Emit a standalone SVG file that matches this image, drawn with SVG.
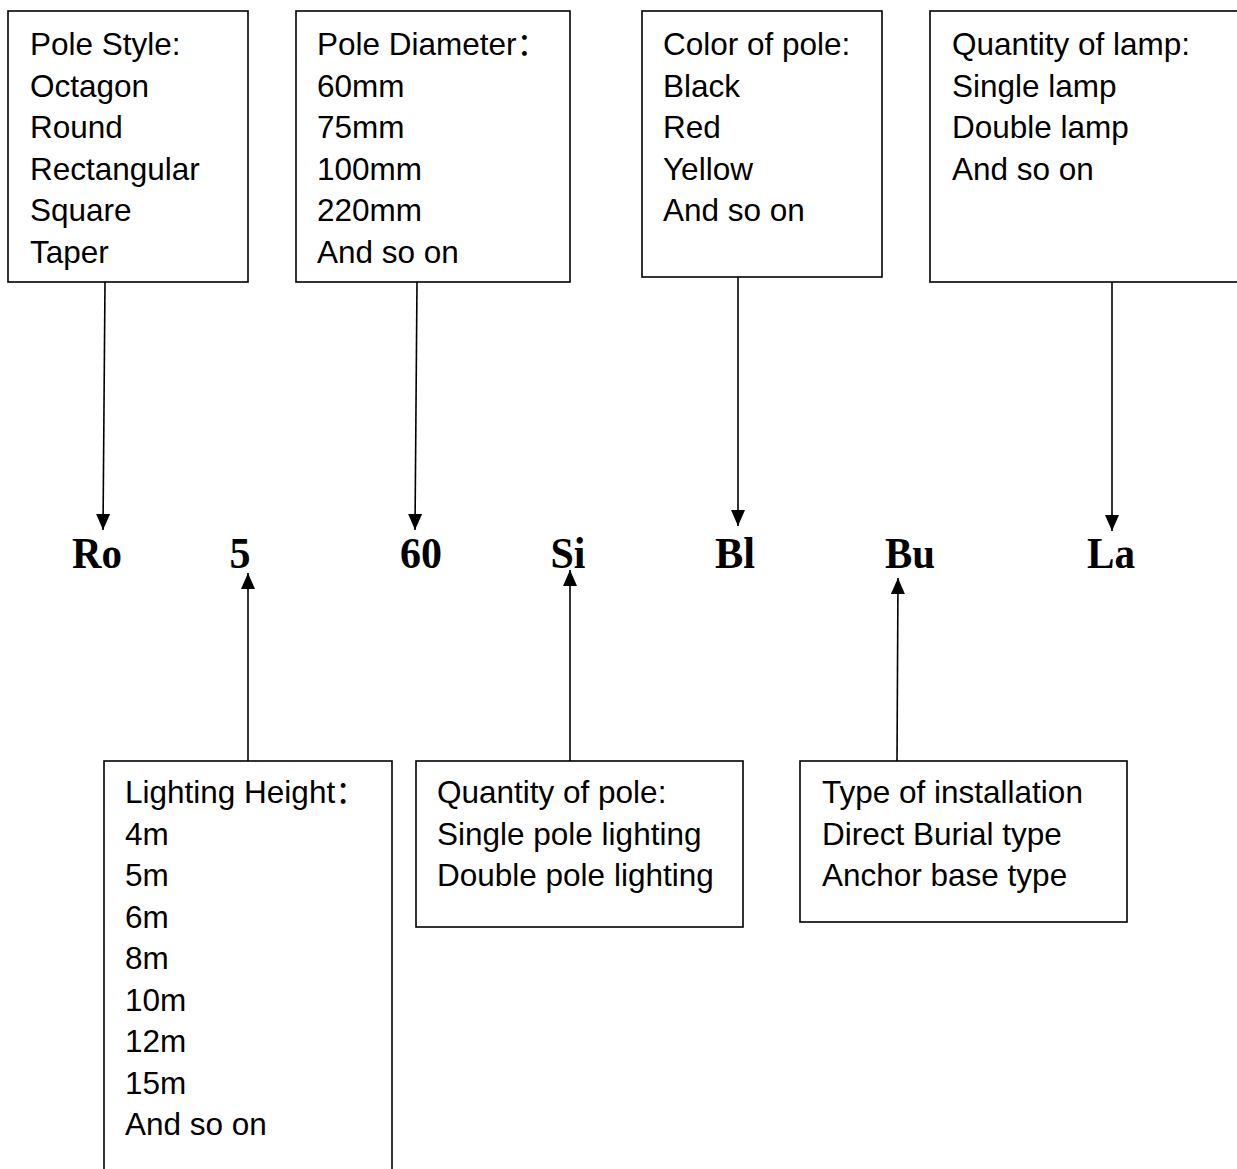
<svg xmlns="http://www.w3.org/2000/svg" width="1237" height="1169" viewBox="0 0 1237 1169">
<style>
.box{fill:#fff;stroke:#000;stroke-width:1.6}
.t{font-family:"Liberation Sans",Arial,"Noto Sans CJK SC",sans-serif;font-size:31.5px;fill:#000}
.code{font-family:"Liberation Serif","Times New Roman",serif;font-weight:bold;font-size:45px;fill:#000;text-anchor:middle}
.ln{stroke:#000;stroke-width:1.6;fill:none}
</style>
<defs>
<marker id="ah" viewBox="0 0 10 10" refX="10" refY="5" markerWidth="9" markerHeight="9" markerUnits="userSpaceOnUse" orient="auto">
<path d="M0,0 L10,5 L0,10 z" fill="#000"/>
</marker>
<marker id="a" viewBox="0 0 16 14" refX="16" refY="7" markerWidth="16" markerHeight="14" markerUnits="userSpaceOnUse" orient="auto">
<path d="M0,0 L16,7 L0,14 z" fill="#000"/>
</marker>
</defs>
<rect width="1237" height="1169" fill="#fff"/>

<g id="n-style">
<rect class="box" x="8" y="11" width="240" height="271"/>
<text class="t" x="30" y="55">Pole Style:</text>
<text class="t" x="30" y="96.5">Octagon</text>
<text class="t" x="30" y="138">Round</text>
<text class="t" x="30" y="179.5">Rectangular</text>
<text class="t" x="30" y="221">Square</text>
<text class="t" x="30" y="262.5">Taper</text>
</g>

<g id="n-diameter">
<rect class="box" x="296" y="11" width="274" height="271"/>
<text class="t" x="317" y="55">Pole Diameter：</text>
<text class="t" x="317" y="96.5">60mm</text>
<text class="t" x="317" y="138">75mm</text>
<text class="t" x="317" y="179.5">100mm</text>
<text class="t" x="317" y="221">220mm</text>
<text class="t" x="317" y="262.5">And so on</text>
</g>

<g id="n-color">
<rect class="box" x="642" y="11" width="240" height="266"/>
<text class="t" x="663" y="55">Color of pole:</text>
<text class="t" x="663" y="96.5">Black</text>
<text class="t" x="663" y="138">Red</text>
<text class="t" x="663" y="179.5">Yellow</text>
<text class="t" x="663" y="221">And so on</text>
</g>

<g id="n-lamp">
<rect class="box" x="930" y="11" width="320" height="271"/>
<text class="t" x="952" y="55">Quantity of lamp:</text>
<text class="t" x="952" y="96.5">Single lamp</text>
<text class="t" x="952" y="138">Double lamp</text>
<text class="t" x="952" y="179.5">And so on</text>
</g>

<g id="n-height">
<rect class="box" x="104" y="761" width="288" height="430"/>
<text class="t" x="125" y="803">Lighting Height：</text>
<text class="t" x="125" y="844.5">4m</text>
<text class="t" x="125" y="886">5m</text>
<text class="t" x="125" y="927.5">6m</text>
<text class="t" x="125" y="969">8m</text>
<text class="t" x="125" y="1010.5">10m</text>
<text class="t" x="125" y="1052">12m</text>
<text class="t" x="125" y="1093.5">15m</text>
<text class="t" x="125" y="1135">And so on</text>
</g>

<g id="n-quantity-pole">
<rect class="box" x="416" y="761" width="327" height="166"/>
<text class="t" x="437" y="803">Quantity of pole:</text>
<text class="t" x="437" y="844.5">Single pole lighting</text>
<text class="t" x="437" y="886">Double pole lighting</text>
</g>

<g id="n-install">
<rect class="box" x="800" y="761" width="327" height="161"/>
<text class="t" x="822" y="803">Type of installation</text>
<text class="t" x="822" y="844.5">Direct Burial type</text>
<text class="t" x="822" y="886">Anchor base type</text>
</g>

<g id="codes">
<text class="code" x="97" y="568" textLength="50" lengthAdjust="spacingAndGlyphs">Ro</text>
<text class="code" x="240" y="568" textLength="21" lengthAdjust="spacingAndGlyphs">5</text>
<text class="code" x="421" y="568" textLength="42" lengthAdjust="spacingAndGlyphs">60</text>
<text class="code" x="568" y="568" textLength="35" lengthAdjust="spacingAndGlyphs">Si</text>
<text class="code" x="735" y="568" textLength="40" lengthAdjust="spacingAndGlyphs">Bl</text>
<text class="code" x="910" y="568" textLength="50" lengthAdjust="spacingAndGlyphs">Bu</text>
<text class="code" x="1111" y="568" textLength="48" lengthAdjust="spacingAndGlyphs">La</text>
</g>

<g id="connectors">
<line class="ln" x1="105" y1="282" x2="103" y2="530" marker-end="url(#a)"/>
<line class="ln" x1="417" y1="282" x2="415" y2="530" marker-end="url(#a)"/>
<line class="ln" x1="738" y1="277" x2="738" y2="526" marker-end="url(#a)"/>
<line class="ln" x1="1112" y1="282" x2="1112" y2="531" marker-end="url(#a)"/>
<line class="ln" x1="248" y1="761" x2="248" y2="573" marker-end="url(#a)"/>
<line class="ln" x1="570" y1="761" x2="570" y2="570" marker-end="url(#a)"/>
<line class="ln" x1="897" y1="761" x2="898" y2="578" marker-end="url(#a)"/>
</g>
</svg>
